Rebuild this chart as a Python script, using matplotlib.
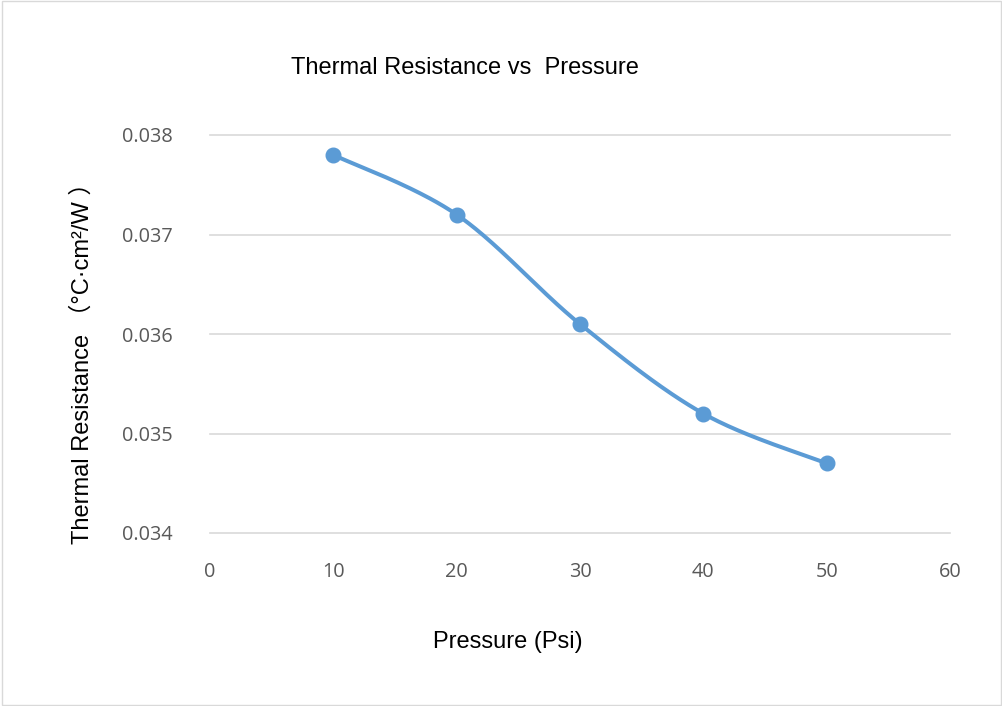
import numpy as np
import matplotlib
matplotlib.use("Agg")
import matplotlib.pyplot as plt
from matplotlib.patches import Rectangle

pressure = [10, 20, 30, 40, 50]
resistance = [0.0378, 0.0372, 0.0361, 0.0352, 0.0347]
x_ticks = [0, 10, 20, 30, 40, 50, 60]
y_ticks = [0.034, 0.035, 0.036, 0.037, 0.038]

title = "Thermal Resistance vs  Pressure"
x_label = "Pressure (Psi)"
y_label = "Thermal Resistance （°C·cm²/W ）"

blue = "#5B9BD5"
grid_c = "#D9D9D9"
tick_c = "#595959"


def smooth(xs, ys, n=60):
    xs = np.asarray(xs, float)
    ys = np.asarray(ys, float)
    px = np.concatenate([[xs[0]], xs, [xs[-1]]])
    py = np.concatenate([[ys[0]], ys, [ys[-1]]])
    out_x, out_y = [], []
    t = np.linspace(0, 1, n)
    for i in range(1, len(px) - 2):
        p0 = np.array([px[i], py[i]])
        p3 = np.array([px[i + 1], py[i + 1]])
        c1 = p0 + (np.array([px[i + 1], py[i + 1]]) - np.array([px[i - 1], py[i - 1]])) / 6
        c2 = p3 - (np.array([px[i + 2], py[i + 2]]) - np.array([px[i], py[i]])) / 6
        b = ((1 - t) ** 3)[:, None] * p0 + (3 * (1 - t) ** 2 * t)[:, None] * c1 \
            + (3 * (1 - t) * t ** 2)[:, None] * c2 + (t ** 3)[:, None] * p3
        out_x.extend(b[:, 0])
        out_y.extend(b[:, 1])
    return out_x, out_y


fig = plt.figure(figsize=(10.03, 7.06), dpi=100)
fig.patches.append(Rectangle((0.0015, 0.002), 0.997, 0.996, transform=fig.transFigure,
                             fill=False, edgecolor=grid_c, linewidth=1))

ax = fig.add_axes([210 / 1003, 1 - 533 / 706, 740 / 1003, 398 / 706])
ax.set_xlim(0, 60)
ax.set_ylim(0.034, 0.038)
ax.set_xticks(x_ticks)
ax.set_yticks(y_ticks)
ax.set_yticklabels([f"{v:.3f}" for v in y_ticks])
for s in ax.spines.values():
    s.set_visible(False)
ax.yaxis.grid(True, color=grid_c, linewidth=1.2)
for gl in ax.get_ygridlines():
    gl.set_clip_on(False)
ax.set_axisbelow(True)
ax.tick_params(length=0, labelsize=14.3, labelcolor=tick_c)
ax.tick_params(axis='y', pad=27)
ax.tick_params(axis='x', pad=21)
for lab in ax.get_xticklabels() + ax.get_yticklabels():
    lab.set_family("Open Sans")

sx, sy = smooth(pressure, resistance)
ax.plot(sx, sy, color=blue, linewidth=2.9, solid_capstyle='round', zorder=3)
ax.plot(pressure, resistance, 'o', color=blue, markersize=10.5, zorder=4)

fig.text(465 / 1003, 1 - 68 / 706, title, ha='center', va='center',
         fontsize=17, family=["Liberation Sans", "DejaVu Sans"], color="black")
fig.text(508 / 1003, 1 - 642 / 706, x_label, ha='center', va='center',
         fontsize=17, family=["Liberation Sans", "DejaVu Sans"], color="black")
fig.text(83 / 1003, 1 - 357 / 706, y_label, ha='center', va='center', rotation=90,
         fontsize=17, family=["Liberation Sans", "Noto Sans CJK SC"], color="black")

fig.savefig("out.png", dpi=100)
